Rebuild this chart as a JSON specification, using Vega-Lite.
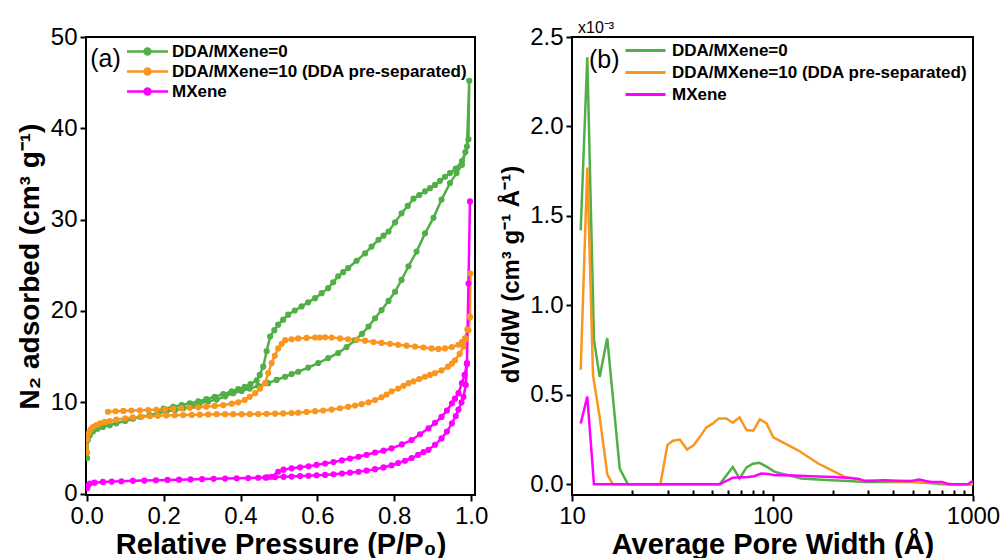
{
  "$schema": "https://vega.github.io/schema/vega-lite/v6.json",
  "padding": {"left": 15, "top": 19, "right": 4, "bottom": 0},
  "background": "white",
  "datasets": {
    "iso": [
      {"s":"DDA/MXene=0","i":1,"p":0.001,"v":3.9},{"s":"DDA/MXene=0","i":2,"p":0.003,"v":5.9},{"s":"DDA/MXene=0","i":3,"p":0.008,"v":6.4},{"s":"DDA/MXene=0","i":4,"p":0.016,"v":6.8},{"s":"DDA/MXene=0","i":5,"p":0.028,"v":7.1},{"s":"DDA/MXene=0","i":6,"p":0.042,"v":7.3},{"s":"DDA/MXene=0","i":7,"p":0.06,"v":7.5},{"s":"DDA/MXene=0","i":8,"p":0.077,"v":7.7},{"s":"DDA/MXene=0","i":9,"p":0.1,"v":7.95},{"s":"DDA/MXene=0","i":10,"p":0.12,"v":8.2},{"s":"DDA/MXene=0","i":11,"p":0.14,"v":8.4},{"s":"DDA/MXene=0","i":12,"p":0.164,"v":8.6},{"s":"DDA/MXene=0","i":13,"p":0.185,"v":8.8},{"s":"DDA/MXene=0","i":14,"p":0.207,"v":9.0},{"s":"DDA/MXene=0","i":15,"p":0.23,"v":9.15},{"s":"DDA/MXene=0","i":16,"p":0.251,"v":9.35},{"s":"DDA/MXene=0","i":17,"p":0.273,"v":9.6},{"s":"DDA/MXene=0","i":18,"p":0.294,"v":9.9},{"s":"DDA/MXene=0","i":19,"p":0.316,"v":10.1},{"s":"DDA/MXene=0","i":20,"p":0.338,"v":10.3},{"s":"DDA/MXene=0","i":21,"p":0.36,"v":10.65},{"s":"DDA/MXene=0","i":22,"p":0.381,"v":11.0},{"s":"DDA/MXene=0","i":23,"p":0.403,"v":11.25},{"s":"DDA/MXene=0","i":24,"p":0.424,"v":11.5},{"s":"DDA/MXene=0","i":25,"p":0.446,"v":11.8},{"s":"DDA/MXene=0","i":26,"p":0.472,"v":12.1},{"s":"DDA/MXene=0","i":27,"p":0.494,"v":12.45},{"s":"DDA/MXene=0","i":28,"p":0.516,"v":12.8},{"s":"DDA/MXene=0","i":29,"p":0.533,"v":13.1},{"s":"DDA/MXene=0","i":30,"p":0.55,"v":13.35},{"s":"DDA/MXene=0","i":31,"p":0.576,"v":13.8},{"s":"DDA/MXene=0","i":32,"p":0.602,"v":14.3},{"s":"DDA/MXene=0","i":33,"p":0.628,"v":14.85},{"s":"DDA/MXene=0","i":34,"p":0.654,"v":15.4},{"s":"DDA/MXene=0","i":35,"p":0.676,"v":16.05},{"s":"DDA/MXene=0","i":36,"p":0.698,"v":16.8},{"s":"DDA/MXene=0","i":37,"p":0.716,"v":17.5},{"s":"DDA/MXene=0","i":38,"p":0.733,"v":18.3},{"s":"DDA/MXene=0","i":39,"p":0.75,"v":19.2},{"s":"DDA/MXene=0","i":40,"p":0.767,"v":20.1},{"s":"DDA/MXene=0","i":41,"p":0.785,"v":21.1},{"s":"DDA/MXene=0","i":42,"p":0.802,"v":22.1},{"s":"DDA/MXene=0","i":43,"p":0.819,"v":23.4},{"s":"DDA/MXene=0","i":44,"p":0.837,"v":24.9},{"s":"DDA/MXene=0","i":45,"p":0.858,"v":26.5},{"s":"DDA/MXene=0","i":46,"p":0.88,"v":28.5},{"s":"DDA/MXene=0","i":47,"p":0.902,"v":30.2},{"s":"DDA/MXene=0","i":48,"p":0.923,"v":32.2},{"s":"DDA/MXene=0","i":49,"p":0.945,"v":34.0},{"s":"DDA/MXene=0","i":50,"p":0.962,"v":35.1},{"s":"DDA/MXene=0","i":51,"p":0.976,"v":36.0},{"s":"DDA/MXene=0","i":52,"p":0.989,"v":38.0},{"s":"DDA/MXene=0","i":53,"p":0.995,"v":45.2},
      {"s":"DDA/MXene=0","i":54,"p":0.993,"v":38.8},{"s":"DDA/MXene=0","i":55,"p":0.985,"v":37.4},{"s":"DDA/MXene=0","i":56,"p":0.976,"v":36.4},{"s":"DDA/MXene=0","i":57,"p":0.96,"v":35.6},{"s":"DDA/MXene=0","i":58,"p":0.945,"v":35.1},{"s":"DDA/MXene=0","i":59,"p":0.932,"v":34.7},{"s":"DDA/MXene=0","i":60,"p":0.919,"v":34.25},{"s":"DDA/MXene=0","i":61,"p":0.906,"v":33.8},{"s":"DDA/MXene=0","i":62,"p":0.893,"v":33.45},{"s":"DDA/MXene=0","i":63,"p":0.88,"v":33.1},{"s":"DDA/MXene=0","i":64,"p":0.865,"v":32.7},{"s":"DDA/MXene=0","i":65,"p":0.85,"v":32.3},{"s":"DDA/MXene=0","i":66,"p":0.835,"v":31.5},{"s":"DDA/MXene=0","i":67,"p":0.819,"v":30.7},{"s":"DDA/MXene=0","i":68,"p":0.802,"v":29.7},{"s":"DDA/MXene=0","i":69,"p":0.785,"v":28.7},{"s":"DDA/MXene=0","i":70,"p":0.772,"v":28.25},{"s":"DDA/MXene=0","i":71,"p":0.759,"v":27.8},{"s":"DDA/MXene=0","i":72,"p":0.741,"v":27.05},{"s":"DDA/MXene=0","i":73,"p":0.724,"v":26.3},{"s":"DDA/MXene=0","i":74,"p":0.702,"v":25.5},{"s":"DDA/MXene=0","i":75,"p":0.68,"v":24.7},{"s":"DDA/MXene=0","i":76,"p":0.667,"v":24.25},{"s":"DDA/MXene=0","i":77,"p":0.654,"v":23.8},{"s":"DDA/MXene=0","i":78,"p":0.641,"v":23.15},{"s":"DDA/MXene=0","i":79,"p":0.628,"v":22.5},{"s":"DDA/MXene=0","i":80,"p":0.611,"v":21.95},{"s":"DDA/MXene=0","i":81,"p":0.594,"v":21.4},{"s":"DDA/MXene=0","i":82,"p":0.576,"v":20.95},{"s":"DDA/MXene=0","i":83,"p":0.559,"v":20.5},{"s":"DDA/MXene=0","i":84,"p":0.541,"v":20.05},{"s":"DDA/MXene=0","i":85,"p":0.524,"v":19.6},{"s":"DDA/MXene=0","i":86,"p":0.511,"v":19.05},{"s":"DDA/MXene=0","i":87,"p":0.498,"v":18.5},{"s":"DDA/MXene=0","i":88,"p":0.488,"v":17.9},{"s":"DDA/MXene=0","i":89,"p":0.477,"v":17.2},{"s":"DDA/MXene=0","i":90,"p":0.468,"v":15.6},{"s":"DDA/MXene=0","i":91,"p":0.459,"v":13.9},{"s":"DDA/MXene=0","i":92,"p":0.45,"v":13.0},{"s":"DDA/MXene=0","i":93,"p":0.442,"v":12.4},{"s":"DDA/MXene=0","i":94,"p":0.426,"v":12.0},{"s":"DDA/MXene=0","i":95,"p":0.411,"v":11.7},{"s":"DDA/MXene=0","i":96,"p":0.394,"v":11.45},{"s":"DDA/MXene=0","i":97,"p":0.377,"v":11.2},{"s":"DDA/MXene=0","i":98,"p":0.355,"v":10.9},{"s":"DDA/MXene=0","i":99,"p":0.333,"v":10.6},{"s":"DDA/MXene=0","i":100,"p":0.311,"v":10.35},{"s":"DDA/MXene=0","i":101,"p":0.29,"v":10.1},{"s":"DDA/MXene=0","i":102,"p":0.268,"v":9.9},{"s":"DDA/MXene=0","i":103,"p":0.247,"v":9.7},{"s":"DDA/MXene=0","i":104,"p":0.225,"v":9.5},{"s":"DDA/MXene=0","i":105,"p":0.2,"v":9.3},
      {"s":"DDA/MXene=10 (DDA pre-separated)","i":1,"p":0.001,"v":4.5},{"s":"DDA/MXene=10 (DDA pre-separated)","i":2,"p":0.002,"v":6.0},{"s":"DDA/MXene=10 (DDA pre-separated)","i":3,"p":0.005,"v":6.6},{"s":"DDA/MXene=10 (DDA pre-separated)","i":4,"p":0.01,"v":7.0},{"s":"DDA/MXene=10 (DDA pre-separated)","i":5,"p":0.016,"v":7.3},{"s":"DDA/MXene=10 (DDA pre-separated)","i":6,"p":0.025,"v":7.5},{"s":"DDA/MXene=10 (DDA pre-separated)","i":7,"p":0.035,"v":7.7},{"s":"DDA/MXene=10 (DDA pre-separated)","i":8,"p":0.047,"v":7.85},{"s":"DDA/MXene=10 (DDA pre-separated)","i":9,"p":0.06,"v":7.95},{"s":"DDA/MXene=10 (DDA pre-separated)","i":10,"p":0.077,"v":8.1},{"s":"DDA/MXene=10 (DDA pre-separated)","i":11,"p":0.1,"v":8.25},{"s":"DDA/MXene=10 (DDA pre-separated)","i":12,"p":0.12,"v":8.35},{"s":"DDA/MXene=10 (DDA pre-separated)","i":13,"p":0.142,"v":8.42},{"s":"DDA/MXene=10 (DDA pre-separated)","i":14,"p":0.164,"v":8.47},{"s":"DDA/MXene=10 (DDA pre-separated)","i":15,"p":0.185,"v":8.52},{"s":"DDA/MXene=10 (DDA pre-separated)","i":16,"p":0.207,"v":8.55},{"s":"DDA/MXene=10 (DDA pre-separated)","i":17,"p":0.229,"v":8.58},{"s":"DDA/MXene=10 (DDA pre-separated)","i":18,"p":0.251,"v":8.6},{"s":"DDA/MXene=10 (DDA pre-separated)","i":19,"p":0.273,"v":8.62},{"s":"DDA/MXene=10 (DDA pre-separated)","i":20,"p":0.294,"v":8.65},{"s":"DDA/MXene=10 (DDA pre-separated)","i":21,"p":0.316,"v":8.67},{"s":"DDA/MXene=10 (DDA pre-separated)","i":22,"p":0.338,"v":8.7},{"s":"DDA/MXene=10 (DDA pre-separated)","i":23,"p":0.36,"v":8.7},{"s":"DDA/MXene=10 (DDA pre-separated)","i":24,"p":0.381,"v":8.7},{"s":"DDA/MXene=10 (DDA pre-separated)","i":25,"p":0.403,"v":8.7},{"s":"DDA/MXene=10 (DDA pre-separated)","i":26,"p":0.424,"v":8.7},{"s":"DDA/MXene=10 (DDA pre-separated)","i":27,"p":0.446,"v":8.72},{"s":"DDA/MXene=10 (DDA pre-separated)","i":28,"p":0.468,"v":8.74},{"s":"DDA/MXene=10 (DDA pre-separated)","i":29,"p":0.49,"v":8.76},{"s":"DDA/MXene=10 (DDA pre-separated)","i":30,"p":0.511,"v":8.78},{"s":"DDA/MXene=10 (DDA pre-separated)","i":31,"p":0.533,"v":8.82},{"s":"DDA/MXene=10 (DDA pre-separated)","i":32,"p":0.55,"v":8.86},{"s":"DDA/MXene=10 (DDA pre-separated)","i":33,"p":0.572,"v":8.95},{"s":"DDA/MXene=10 (DDA pre-separated)","i":34,"p":0.594,"v":9.03},{"s":"DDA/MXene=10 (DDA pre-separated)","i":35,"p":0.615,"v":9.1},{"s":"DDA/MXene=10 (DDA pre-separated)","i":36,"p":0.637,"v":9.2},{"s":"DDA/MXene=10 (DDA pre-separated)","i":37,"p":0.659,"v":9.35},{"s":"DDA/MXene=10 (DDA pre-separated)","i":38,"p":0.68,"v":9.5},{"s":"DDA/MXene=10 (DDA pre-separated)","i":39,"p":0.698,"v":9.65},{"s":"DDA/MXene=10 (DDA pre-separated)","i":40,"p":0.715,"v":9.8},{"s":"DDA/MXene=10 (DDA pre-separated)","i":41,"p":0.733,"v":10.0},{"s":"DDA/MXene=10 (DDA pre-separated)","i":42,"p":0.75,"v":10.25},{"s":"DDA/MXene=10 (DDA pre-separated)","i":43,"p":0.767,"v":10.55},{"s":"DDA/MXene=10 (DDA pre-separated)","i":44,"p":0.78,"v":10.85},{"s":"DDA/MXene=10 (DDA pre-separated)","i":45,"p":0.793,"v":11.2},{"s":"DDA/MXene=10 (DDA pre-separated)","i":46,"p":0.81,"v":11.5},{"s":"DDA/MXene=10 (DDA pre-separated)","i":47,"p":0.824,"v":11.8},{"s":"DDA/MXene=10 (DDA pre-separated)","i":48,"p":0.837,"v":12.1},{"s":"DDA/MXene=10 (DDA pre-separated)","i":49,"p":0.85,"v":12.3},{"s":"DDA/MXene=10 (DDA pre-separated)","i":50,"p":0.865,"v":12.55},{"s":"DDA/MXene=10 (DDA pre-separated)","i":51,"p":0.88,"v":12.8},{"s":"DDA/MXene=10 (DDA pre-separated)","i":52,"p":0.893,"v":13.0},{"s":"DDA/MXene=10 (DDA pre-separated)","i":53,"p":0.906,"v":13.2},{"s":"DDA/MXene=10 (DDA pre-separated)","i":54,"p":0.923,"v":13.5},{"s":"DDA/MXene=10 (DDA pre-separated)","i":55,"p":0.94,"v":13.9},{"s":"DDA/MXene=10 (DDA pre-separated)","i":56,"p":0.95,"v":14.25},{"s":"DDA/MXene=10 (DDA pre-separated)","i":57,"p":0.958,"v":14.6},{"s":"DDA/MXene=10 (DDA pre-separated)","i":58,"p":0.97,"v":15.3},{"s":"DDA/MXene=10 (DDA pre-separated)","i":59,"p":0.98,"v":16.1},{"s":"DDA/MXene=10 (DDA pre-separated)","i":60,"p":0.987,"v":16.9},{"s":"DDA/MXene=10 (DDA pre-separated)","i":61,"p":0.993,"v":17.9},{"s":"DDA/MXene=10 (DDA pre-separated)","i":62,"p":0.997,"v":19.3},{"s":"DDA/MXene=10 (DDA pre-separated)","i":63,"p":0.998,"v":24.1},
      {"s":"DDA/MXene=10 (DDA pre-separated)","i":64,"p":0.996,"v":19.4},{"s":"DDA/MXene=10 (DDA pre-separated)","i":65,"p":0.99,"v":18.0},{"s":"DDA/MXene=10 (DDA pre-separated)","i":66,"p":0.984,"v":17.0},{"s":"DDA/MXene=10 (DDA pre-separated)","i":67,"p":0.976,"v":16.6},{"s":"DDA/MXene=10 (DDA pre-separated)","i":68,"p":0.967,"v":16.3},{"s":"DDA/MXene=10 (DDA pre-separated)","i":69,"p":0.95,"v":16.05},{"s":"DDA/MXene=10 (DDA pre-separated)","i":70,"p":0.932,"v":15.9},{"s":"DDA/MXene=10 (DDA pre-separated)","i":71,"p":0.915,"v":15.85},{"s":"DDA/MXene=10 (DDA pre-separated)","i":72,"p":0.897,"v":15.9},{"s":"DDA/MXene=10 (DDA pre-separated)","i":73,"p":0.876,"v":16.0},{"s":"DDA/MXene=10 (DDA pre-separated)","i":74,"p":0.854,"v":16.1},{"s":"DDA/MXene=10 (DDA pre-separated)","i":75,"p":0.832,"v":16.2},{"s":"DDA/MXene=10 (DDA pre-separated)","i":76,"p":0.81,"v":16.3},{"s":"DDA/MXene=10 (DDA pre-separated)","i":77,"p":0.789,"v":16.4},{"s":"DDA/MXene=10 (DDA pre-separated)","i":78,"p":0.767,"v":16.5},{"s":"DDA/MXene=10 (DDA pre-separated)","i":79,"p":0.746,"v":16.6},{"s":"DDA/MXene=10 (DDA pre-separated)","i":80,"p":0.724,"v":16.75},{"s":"DDA/MXene=10 (DDA pre-separated)","i":81,"p":0.702,"v":16.85},{"s":"DDA/MXene=10 (DDA pre-separated)","i":82,"p":0.68,"v":16.9},{"s":"DDA/MXene=10 (DDA pre-separated)","i":83,"p":0.659,"v":17.0},{"s":"DDA/MXene=10 (DDA pre-separated)","i":84,"p":0.637,"v":17.1},{"s":"DDA/MXene=10 (DDA pre-separated)","i":85,"p":0.62,"v":17.12},{"s":"DDA/MXene=10 (DDA pre-separated)","i":86,"p":0.606,"v":17.1},{"s":"DDA/MXene=10 (DDA pre-separated)","i":87,"p":0.594,"v":17.1},{"s":"DDA/MXene=10 (DDA pre-separated)","i":88,"p":0.572,"v":17.05},{"s":"DDA/MXene=10 (DDA pre-separated)","i":89,"p":0.55,"v":17.0},{"s":"DDA/MXene=10 (DDA pre-separated)","i":90,"p":0.533,"v":16.9},{"s":"DDA/MXene=10 (DDA pre-separated)","i":91,"p":0.516,"v":16.8},{"s":"DDA/MXene=10 (DDA pre-separated)","i":92,"p":0.507,"v":16.4},{"s":"DDA/MXene=10 (DDA pre-separated)","i":93,"p":0.498,"v":15.9},{"s":"DDA/MXene=10 (DDA pre-separated)","i":94,"p":0.489,"v":15.1},{"s":"DDA/MXene=10 (DDA pre-separated)","i":95,"p":0.481,"v":14.3},{"s":"DDA/MXene=10 (DDA pre-separated)","i":96,"p":0.472,"v":13.2},{"s":"DDA/MXene=10 (DDA pre-separated)","i":97,"p":0.464,"v":12.1},{"s":"DDA/MXene=10 (DDA pre-separated)","i":98,"p":0.451,"v":11.5},{"s":"DDA/MXene=10 (DDA pre-separated)","i":99,"p":0.438,"v":11.0},{"s":"DDA/MXene=10 (DDA pre-separated)","i":100,"p":0.424,"v":10.6},{"s":"DDA/MXene=10 (DDA pre-separated)","i":101,"p":0.411,"v":10.25},{"s":"DDA/MXene=10 (DDA pre-separated)","i":102,"p":0.394,"v":10.0},{"s":"DDA/MXene=10 (DDA pre-separated)","i":103,"p":0.377,"v":9.85},{"s":"DDA/MXene=10 (DDA pre-separated)","i":104,"p":0.355,"v":9.7},{"s":"DDA/MXene=10 (DDA pre-separated)","i":105,"p":0.333,"v":9.6},{"s":"DDA/MXene=10 (DDA pre-separated)","i":106,"p":0.311,"v":9.52},{"s":"DDA/MXene=10 (DDA pre-separated)","i":107,"p":0.29,"v":9.45},{"s":"DDA/MXene=10 (DDA pre-separated)","i":108,"p":0.268,"v":9.4},{"s":"DDA/MXene=10 (DDA pre-separated)","i":109,"p":0.246,"v":9.34},{"s":"DDA/MXene=10 (DDA pre-separated)","i":110,"p":0.225,"v":9.28},{"s":"DDA/MXene=10 (DDA pre-separated)","i":111,"p":0.203,"v":9.22},{"s":"DDA/MXene=10 (DDA pre-separated)","i":112,"p":0.181,"v":9.18},{"s":"DDA/MXene=10 (DDA pre-separated)","i":113,"p":0.16,"v":9.15},{"s":"DDA/MXene=10 (DDA pre-separated)","i":114,"p":0.138,"v":9.12},{"s":"DDA/MXene=10 (DDA pre-separated)","i":115,"p":0.116,"v":9.1},{"s":"DDA/MXene=10 (DDA pre-separated)","i":116,"p":0.095,"v":9.06},{"s":"DDA/MXene=10 (DDA pre-separated)","i":117,"p":0.075,"v":9.02},{"s":"DDA/MXene=10 (DDA pre-separated)","i":118,"p":0.055,"v":8.97},
      {"s":"MXene","i":1,"p":0.001,"v":0.6},{"s":"MXene","i":2,"p":0.003,"v":0.9},{"s":"MXene","i":3,"p":0.008,"v":1.1},{"s":"MXene","i":4,"p":0.02,"v":1.2},{"s":"MXene","i":5,"p":0.042,"v":1.28},{"s":"MXene","i":6,"p":0.065,"v":1.32},{"s":"MXene","i":7,"p":0.09,"v":1.36},{"s":"MXene","i":8,"p":0.12,"v":1.4},{"s":"MXene","i":9,"p":0.15,"v":1.43},{"s":"MXene","i":10,"p":0.18,"v":1.46},{"s":"MXene","i":11,"p":0.21,"v":1.5},{"s":"MXene","i":12,"p":0.24,"v":1.53},{"s":"MXene","i":13,"p":0.27,"v":1.56},{"s":"MXene","i":14,"p":0.3,"v":1.59},{"s":"MXene","i":15,"p":0.33,"v":1.62},{"s":"MXene","i":16,"p":0.36,"v":1.65},{"s":"MXene","i":17,"p":0.39,"v":1.68},{"s":"MXene","i":18,"p":0.42,"v":1.71},{"s":"MXene","i":19,"p":0.446,"v":1.74},{"s":"MXene","i":20,"p":0.47,"v":1.78},{"s":"MXene","i":21,"p":0.49,"v":1.81},{"s":"MXene","i":22,"p":0.512,"v":1.84},{"s":"MXene","i":23,"p":0.533,"v":1.87},{"s":"MXene","i":24,"p":0.555,"v":1.92},{"s":"MXene","i":25,"p":0.577,"v":1.96},{"s":"MXene","i":26,"p":0.598,"v":2.0},{"s":"MXene","i":27,"p":0.62,"v":2.05},{"s":"MXene","i":28,"p":0.642,"v":2.12},{"s":"MXene","i":29,"p":0.664,"v":2.2},{"s":"MXene","i":30,"p":0.685,"v":2.3},{"s":"MXene","i":31,"p":0.707,"v":2.4},{"s":"MXene","i":32,"p":0.728,"v":2.52},{"s":"MXene","i":33,"p":0.75,"v":2.68},{"s":"MXene","i":34,"p":0.772,"v":2.87},{"s":"MXene","i":35,"p":0.793,"v":3.1},{"s":"MXene","i":36,"p":0.81,"v":3.35},{"s":"MXene","i":37,"p":0.828,"v":3.6},{"s":"MXene","i":38,"p":0.845,"v":3.9},{"s":"MXene","i":39,"p":0.862,"v":4.25},{"s":"MXene","i":40,"p":0.876,"v":4.55},{"s":"MXene","i":41,"p":0.889,"v":4.8},{"s":"MXene","i":42,"p":0.906,"v":5.35},{"s":"MXene","i":43,"p":0.923,"v":6.05},{"s":"MXene","i":44,"p":0.937,"v":6.8},{"s":"MXene","i":45,"p":0.95,"v":7.7},{"s":"MXene","i":46,"p":0.96,"v":8.5},{"s":"MXene","i":47,"p":0.967,"v":9.2},{"s":"MXene","i":48,"p":0.975,"v":10.0},{"s":"MXene","i":49,"p":0.98,"v":10.6},{"s":"MXene","i":50,"p":0.986,"v":11.9},{"s":"MXene","i":51,"p":0.989,"v":14.3},{"s":"MXene","i":52,"p":0.993,"v":23.0},{"s":"MXene","i":53,"p":0.997,"v":32.0},
      {"s":"MXene","i":54,"p":0.989,"v":14.2},{"s":"MXene","i":55,"p":0.983,"v":13.0},{"s":"MXene","i":56,"p":0.976,"v":12.1},{"s":"MXene","i":57,"p":0.967,"v":11.0},{"s":"MXene","i":58,"p":0.958,"v":10.4},{"s":"MXene","i":59,"p":0.95,"v":9.9},{"s":"MXene","i":60,"p":0.937,"v":9.1},{"s":"MXene","i":61,"p":0.923,"v":8.4},{"s":"MXene","i":62,"p":0.906,"v":7.75},{"s":"MXene","i":63,"p":0.889,"v":7.15},{"s":"MXene","i":64,"p":0.867,"v":6.5},{"s":"MXene","i":65,"p":0.845,"v":5.87},{"s":"MXene","i":66,"p":0.82,"v":5.4},{"s":"MXene","i":67,"p":0.793,"v":4.96},{"s":"MXene","i":68,"p":0.772,"v":4.7},{"s":"MXene","i":69,"p":0.75,"v":4.5},{"s":"MXene","i":70,"p":0.728,"v":4.25},{"s":"MXene","i":71,"p":0.707,"v":4.04},{"s":"MXene","i":72,"p":0.685,"v":3.85},{"s":"MXene","i":73,"p":0.664,"v":3.65},{"s":"MXene","i":74,"p":0.642,"v":3.45},{"s":"MXene","i":75,"p":0.62,"v":3.3},{"s":"MXene","i":76,"p":0.598,"v":3.15},{"s":"MXene","i":77,"p":0.577,"v":3.0},{"s":"MXene","i":78,"p":0.555,"v":2.88},{"s":"MXene","i":79,"p":0.533,"v":2.77},{"s":"MXene","i":80,"p":0.512,"v":2.62},{"s":"MXene","i":81,"p":0.498,"v":2.4},{"s":"MXene","i":82,"p":0.481,"v":1.85},{"s":"MXene","i":83,"p":0.465,"v":1.76}
    ],
    "psd": [
      {"s":"DDA/MXene=0","w":11.05,"d":0.00142},{"s":"DDA/MXene=0","w":11.92,"d":0.002386},{"s":"DDA/MXene=0","w":12.87,"d":0.000807},{"s":"DDA/MXene=0","w":13.74,"d":0.0006},{"s":"DDA/MXene=0","w":14.99,"d":0.000817},{"s":"DDA/MXene=0","w":17.3,"d":0.000088},{"s":"DDA/MXene=0","w":19.0,"d":0},{"s":"DDA/MXene=0","w":25,"d":0},{"s":"DDA/MXene=0","w":35,"d":0},{"s":"DDA/MXene=0","w":45,"d":0},{"s":"DDA/MXene=0","w":54.5,"d":0},{"s":"DDA/MXene=0","w":63.4,"d":0.000097},{"s":"DDA/MXene=0","w":68.5,"d":0.000032},{"s":"DDA/MXene=0","w":74.2,"d":0.000094},{"s":"DDA/MXene=0","w":80,"d":0.000115},{"s":"DDA/MXene=0","w":86,"d":0.00012},{"s":"DDA/MXene=0","w":93,"d":0.0001},{"s":"DDA/MXene=0","w":102.6,"d":0.000069},{"s":"DDA/MXene=0","w":110,"d":0.00006},{"s":"DDA/MXene=0","w":120,"d":0.00005},{"s":"DDA/MXene=0","w":139,"d":0.000032},{"s":"DDA/MXene=0","w":160,"d":0.000028},{"s":"DDA/MXene=0","w":197,"d":0.000022},{"s":"DDA/MXene=0","w":240,"d":0.000018},{"s":"DDA/MXene=0","w":288,"d":0.000013},{"s":"DDA/MXene=0","w":350,"d":0.000013},{"s":"DDA/MXene=0","w":420,"d":0.000012},{"s":"DDA/MXene=0","w":491,"d":0.000013},{"s":"DDA/MXene=0","w":560,"d":0.00001},{"s":"DDA/MXene=0","w":621,"d":0.000005},{"s":"DDA/MXene=0","w":700,"d":0},{"s":"DDA/MXene=0","w":850,"d":0},{"s":"DDA/MXene=0","w":1000,"d":0},
      {"s":"DDA/MXene=10 (DDA pre-separated)","w":11.05,"d":0.00064},{"s":"DDA/MXene=10 (DDA pre-separated)","w":11.92,"d":0.00177},{"s":"DDA/MXene=10 (DDA pre-separated)","w":12.73,"d":0.00061},{"s":"DDA/MXene=10 (DDA pre-separated)","w":13.74,"d":0.000377},{"s":"DDA/MXene=10 (DDA pre-separated)","w":15.0,"d":0.000056},{"s":"DDA/MXene=10 (DDA pre-separated)","w":16.0,"d":0},{"s":"DDA/MXene=10 (DDA pre-separated)","w":20,"d":0},{"s":"DDA/MXene=10 (DDA pre-separated)","w":24,"d":0},{"s":"DDA/MXene=10 (DDA pre-separated)","w":27.6,"d":0},{"s":"DDA/MXene=10 (DDA pre-separated)","w":29.9,"d":0.000219},{"s":"DDA/MXene=10 (DDA pre-separated)","w":31.9,"d":0.000243},{"s":"DDA/MXene=10 (DDA pre-separated)","w":34.5,"d":0.00025},{"s":"DDA/MXene=10 (DDA pre-separated)","w":37.5,"d":0.000194},{"s":"DDA/MXene=10 (DDA pre-separated)","w":40.5,"d":0.000219},{"s":"DDA/MXene=10 (DDA pre-separated)","w":43.4,"d":0.000265},{"s":"DDA/MXene=10 (DDA pre-separated)","w":46.8,"d":0.000318},{"s":"DDA/MXene=10 (DDA pre-separated)","w":50.5,"d":0.00034},{"s":"DDA/MXene=10 (DDA pre-separated)","w":53.9,"d":0.000368},{"s":"DDA/MXene=10 (DDA pre-separated)","w":58.8,"d":0.000368},{"s":"DDA/MXene=10 (DDA pre-separated)","w":63.4,"d":0.000344},{"s":"DDA/MXene=10 (DDA pre-separated)","w":68.5,"d":0.000374},{"s":"DDA/MXene=10 (DDA pre-separated)","w":74.2,"d":0.000303},{"s":"DDA/MXene=10 (DDA pre-separated)","w":80.2,"d":0.000299},{"s":"DDA/MXene=10 (DDA pre-separated)","w":86.5,"d":0.000363},{"s":"DDA/MXene=10 (DDA pre-separated)","w":93.4,"d":0.00034},{"s":"DDA/MXene=10 (DDA pre-separated)","w":100.9,"d":0.000262},{"s":"DDA/MXene=10 (DDA pre-separated)","w":134,"d":0.00019},{"s":"DDA/MXene=10 (DDA pre-separated)","w":169,"d":0.000116},{"s":"DDA/MXene=10 (DDA pre-separated)","w":200,"d":0.000075},{"s":"DDA/MXene=10 (DDA pre-separated)","w":229,"d":0.000041},{"s":"DDA/MXene=10 (DDA pre-separated)","w":267,"d":0.000026},{"s":"DDA/MXene=10 (DDA pre-separated)","w":288,"d":0.00002},{"s":"DDA/MXene=10 (DDA pre-separated)","w":350,"d":0.00002},{"s":"DDA/MXene=10 (DDA pre-separated)","w":420,"d":0.000015},{"s":"DDA/MXene=10 (DDA pre-separated)","w":491,"d":0.000015},{"s":"DDA/MXene=10 (DDA pre-separated)","w":560,"d":0.000012},{"s":"DDA/MXene=10 (DDA pre-separated)","w":621,"d":0.00001},{"s":"DDA/MXene=10 (DDA pre-separated)","w":700,"d":0.000005},{"s":"DDA/MXene=10 (DDA pre-separated)","w":800,"d":0},{"s":"DDA/MXene=10 (DDA pre-separated)","w":1000,"d":0},
      {"s":"MXene","w":11.05,"d":0.00034},{"s":"MXene","w":11.92,"d":0.00049},{"s":"MXene","w":12.87,"d":0},{"s":"MXene","w":20,"d":0},{"s":"MXene","w":30,"d":0},{"s":"MXene","w":40,"d":0},{"s":"MXene","w":54.5,"d":0},{"s":"MXene","w":63.4,"d":0.000037},{"s":"MXene","w":75.4,"d":0.00004},{"s":"MXene","w":81,"d":0.000045},{"s":"MXene","w":88,"d":0.00006},{"s":"MXene","w":95,"d":0.000058},{"s":"MXene","w":102.6,"d":0.00005},{"s":"MXene","w":120,"d":0.00005},{"s":"MXene","w":156.5,"d":0.000045},{"s":"MXene","w":200,"d":0.00004},{"s":"MXene","w":247,"d":0.000035},{"s":"MXene","w":270,"d":0.00003},{"s":"MXene","w":288,"d":0.000018},{"s":"MXene","w":320,"d":0.00002},{"s":"MXene","w":362,"d":0.000022},{"s":"MXene","w":420,"d":0.00002},{"s":"MXene","w":491,"d":0.000018},{"s":"MXene","w":541,"d":0.000026},{"s":"MXene","w":580,"d":0.000018},{"s":"MXene","w":621,"d":0.000013},{"s":"MXene","w":700,"d":0.000012},{"s":"MXene","w":755,"d":0},{"s":"MXene","w":943,"d":0},{"s":"MXene","w":1000,"d":0.00002}
    ]
  },
  "config": {
    "font": "Liberation Sans",
    "view": {"stroke": "black", "strokeWidth": 2},
    "axis": {"domain": false, "grid": false, "tickColor": "black", "tickWidth": 2, "tickSize": 6, "labelColor": "black", "titleColor": "black", "labelFontSize": 24, "titleFontSize": 29, "titleFontWeight": "bold", "labelPadding": 3, "labelFlush": false}
  },
  "resolve": {"scale": {"color": "independent", "x": "independent", "y": "independent"}, "legend": {"color": "independent"}},
  "bounds": "flush",
  "spacing": 97,
  "hconcat": [
    {
      "width": 389,
      "height": 458,
      "data": {"name": "iso"},
      "layer": [
        {
          "mark": {"type": "line", "strokeWidth": 2.5, "clip": true},
          "encoding": {
            "x": {"field": "p", "type": "quantitative", "scale": {"domain": [-0.002, 1.01], "nice": false}, "axis": {"values": [0, 0.2, 0.4, 0.6, 0.8, 1.0], "format": ".1f", "title": "Relative Pressure (P/P₀)", "titlePadding": 2}},
            "y": {"field": "v", "type": "quantitative", "scale": {"domain": [-0.15, 50], "nice": false}, "axis": {"values": [0, 10, 20, 30, 40, 50], "title": "N₂ adsorbed (cm³ g⁻¹)", "titleFontSize": 28, "titlePadding": 6}},
            "color": {"field": "s", "type": "nominal", "scale": {"domain": ["DDA/MXene=0", "DDA/MXene=10 (DDA pre-separated)", "MXene"], "range": ["#50af46", "#f9961f", "#ff00ff"]},
              "legend": {"orient": "none", "legendX": 50, "legendY": 3, "title": null, "symbolType": "M-2,0H2M0.29,0A0.29,0.29,0,1,1,-0.29,0A0.29,0.29,0,1,1,0.29,0", "symbolSize": 420, "symbolStrokeWidth": 2.5, "labelFontSize": 17, "labelFontWeight": "bold", "labelColor": "black", "labelLimit": 500, "labelOffset": 13, "rowPadding": 0,
                "encode": {"symbols": {"update": {"fill": {"scale": "color", "field": "value"}}}}}},
            "order": {"field": "i", "type": "quantitative"}
          }
        },
        {
          "mark": {"type": "point", "filled": true, "size": 38, "opacity": 1, "clip": true},
          "encoding": {
            "x": {"field": "p", "type": "quantitative"},
            "y": {"field": "v", "type": "quantitative"},
            "color": {"field": "s", "type": "nominal",
              "legend": {"orient": "none", "legendX": 50, "legendY": 3, "title": null, "symbolType": "M-2,0H2M0.29,0A0.29,0.29,0,1,1,-0.29,0A0.29,0.29,0,1,1,0.29,0", "symbolSize": 420, "symbolStrokeWidth": 2.5, "labelFontSize": 17, "labelFontWeight": "bold", "labelColor": "black", "labelLimit": 500, "labelOffset": 13, "rowPadding": 0,
                "encode": {"symbols": {"update": {"fill": {"scale": "color", "field": "value"}}}}}}
          }
        },
        {
          "data": {"values": [{"t": "(a)", "p": 0.009, "v": 47.6}]},
          "mark": {"type": "text", "align": "left", "baseline": "middle", "fontSize": 25, "color": "black"},
          "encoding": {"x": {"field": "p", "type": "quantitative"}, "y": {"field": "v", "type": "quantitative"}, "text": {"field": "t"}}
        }
      ]
    },
    {
      "width": 401,
      "height": 458,
      "data": {"name": "psd"},
      "layer": [
        {
          "mark": {"type": "line", "strokeWidth": 2.5, "clip": true},
          "encoding": {
            "x": {"field": "w", "type": "quantitative", "scale": {"type": "log", "domain": [10, 1000], "nice": false},
              "axis": {"values": [10, 20, 30, 40, 50, 60, 70, 80, 90, 100, 200, 300, 400, 500, 600, 700, 800, 900, 1000], "format": "d", "labelExpr": "(datum.value == 10 || datum.value == 100 || datum.value == 1000) ? datum.label : ''", "tickSize": {"condition": {"test": "datum.value == 10 || datum.value == 100 || datum.value == 1000", "value": 6}, "value": -5}, "title": "Average Pore Width (Å)", "titlePadding": 2}},
            "y": {"field": "d", "type": "quantitative", "scale": {"domain": [-0.00006, 0.0025], "nice": false}, "axis": {"values": [0, 0.0005, 0.001, 0.0015, 0.002, 0.0025], "labelExpr": "format(datum.value * 1000, '.1f')", "title": "dV/dW (cm³ g⁻¹ Å⁻¹)", "titleFontSize": 24, "titlePadding": 6, "titleY": 237}},
            "color": {"field": "s", "type": "nominal", "scale": {"domain": ["DDA/MXene=0", "DDA/MXene=10 (DDA pre-separated)", "MXene"], "range": ["#50af46", "#f9961f", "#ff00ff"]},
              "legend": {"orient": "none", "legendX": 62, "legendY": 2, "title": null, "symbolType": "M-2,0H2", "symbolSize": 400, "symbolStrokeWidth": 3, "labelFontSize": 17, "labelFontWeight": "bold", "labelColor": "black", "labelLimit": 500, "labelOffset": 15, "rowPadding": 2}}
          }
        },
        {
          "data": {"values": [{"t": "(b)", "w": 12.15, "d": 0.00237}]},
          "mark": {"type": "text", "align": "left", "baseline": "middle", "fontSize": 25, "color": "black"},
          "encoding": {"x": {"field": "w", "type": "quantitative"}, "y": {"field": "d", "type": "quantitative"}, "text": {"field": "t"}}
        },
        {
          "data": {"values": [{"t": "x10⁻³", "w": 10, "d": 0.0025}]},
          "mark": {"type": "text", "align": "left", "baseline": "alphabetic", "fontSize": 16, "dx": 6, "dy": -4, "color": "black", "clip": false},
          "encoding": {"x": {"field": "w", "type": "quantitative"}, "y": {"field": "d", "type": "quantitative"}, "text": {"field": "t"}}
        }
      ]
    }
  ]
}
